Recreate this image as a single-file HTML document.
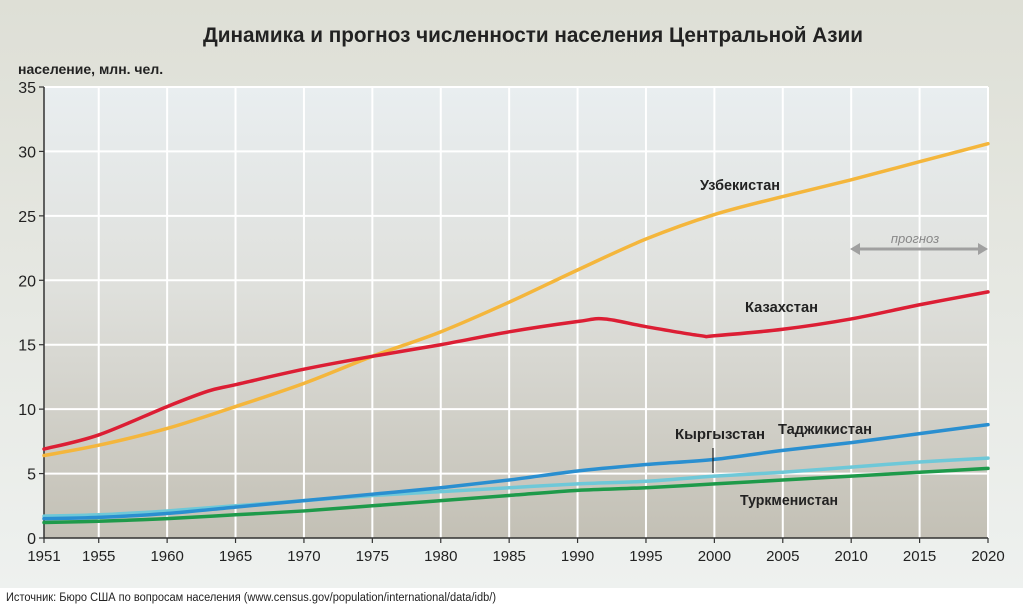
<!DOCTYPE html>
<html><head><meta charset="utf-8"><style>
body{margin:0;width:1023px;height:608px;overflow:hidden;font-family:"Liberation Sans",sans-serif;background:#fff}
</style></head><body>
<svg id="c" width="1023" height="608" xmlns="http://www.w3.org/2000/svg">
<defs>
<linearGradient id="bg" x1="0" y1="0" x2="0" y2="1"><stop offset="0" stop-color="#dedfd6"/><stop offset="1" stop-color="#eef1ef"/></linearGradient>
<linearGradient id="pg" x1="0" y1="0" x2="0" y2="1"><stop offset="0" stop-color="#e9eef0"/><stop offset="0.45" stop-color="#dfe0dc"/><stop offset="1" stop-color="#c3c0b5"/></linearGradient>
</defs>
<rect x="0" y="0" width="1023" height="588" fill="url(#bg)"/>
<rect x="44" y="87" width="944" height="451" fill="url(#pg)"/>
<g id="grid"></g>
<g id="axes"></g>
<g id="lines"></g>
<text x="533" y="42" text-anchor="middle" font-size="21" font-weight="bold" fill="#222" textLength="660" lengthAdjust="spacingAndGlyphs">Динамика и прогноз численности населения Центральной Азии</text>
<text x="18" y="74" font-size="14" font-weight="bold" fill="#222">население, млн. чел.</text>
<text x="700" y="190" font-size="15" font-weight="bold" fill="#222" textLength="80" lengthAdjust="spacingAndGlyphs">Узбекистан</text>
<text x="745" y="312" font-size="15" font-weight="bold" fill="#222" textLength="73" lengthAdjust="spacingAndGlyphs">Казахстан</text>
<text x="675" y="439" font-size="15" font-weight="bold" fill="#222" textLength="90" lengthAdjust="spacingAndGlyphs">Кыргызстан</text>
<text x="778" y="434" font-size="15" font-weight="bold" fill="#222" textLength="94" lengthAdjust="spacingAndGlyphs">Таджикистан</text>
<text x="740" y="505" font-size="15" font-weight="bold" fill="#222" textLength="98" lengthAdjust="spacingAndGlyphs">Туркменистан</text>
<line x1="713" y1="448" x2="713" y2="473" stroke="#222" stroke-width="1.2"/>
<g>
<line x1="858" y1="249" x2="980" y2="249" stroke="#a0a0a0" stroke-width="3"/>
<polygon points="850,249 860,243 860,255" fill="#a0a0a0"/>
<polygon points="988,249 978,243 978,255" fill="#a0a0a0"/>
<text x="915" y="243" text-anchor="middle" font-size="13" font-style="italic" fill="#888">прогноз</text>
</g>
<text x="6" y="601" font-size="11.5" fill="#222" textLength="490" lengthAdjust="spacingAndGlyphs">Источник: Бюро США по вопросам населения (www.census.gov/population/international/data/idb/)</text>
</svg>
<script>
const years=[1951,1955,1960,1965,1970,1975,1980,1985,1990,1995,2000,2005,2010,2015,2020];
const uzbekistan=[6.4,7.2,8.5,10.2,12.0,14.1,16.0,18.3,20.8,23.2,25.1,26.5,27.8,29.2,30.6];
const kazYears=[1951,1955,1960,1963,1965,1970,1975,1980,1985,1990,1992,1995,1999,2000,2005,2010,2015,2020];
const kazakhstan=[6.9,8.0,10.2,11.4,11.9,13.1,14.1,15.0,16.0,16.8,17.0,16.4,15.7,15.7,16.2,17.0,18.1,19.1];
const tajikistan=[1.5,1.6,1.9,2.4,2.9,3.4,3.9,4.5,5.2,5.7,6.1,6.8,7.4,8.1,8.8];
const kyrgyzstan=[1.7,1.8,2.1,2.5,2.9,3.3,3.6,3.9,4.2,4.4,4.8,5.1,5.5,5.9,6.2];
const turkmenistan=[1.2,1.3,1.5,1.8,2.1,2.5,2.9,3.3,3.7,3.9,4.2,4.5,4.8,5.1,5.4];
const yTicks=[0,5,10,15,20,25,30,35];
const xTicks=[1951,1955,1960,1965,1970,1975,1980,1985,1990,1995,2000,2005,2010,2015,2020];
const NS='http://www.w3.org/2000/svg';
const X0=44,X1=988,Y0=538,Y1=87;
const xs=v=>X0+(v-1951)/(2020-1951)*(X1-X0);
const ys=v=>Y0-v/35*(Y0-Y1);
function mk(tag,attrs,parent){const e=document.createElementNS(NS,tag);for(const k in attrs)e.setAttribute(k,attrs[k]);document.getElementById(parent).appendChild(e);return e;}
yTicks.forEach(t=>{
 if(t>0){const g=mk('line',{x1:X0,x2:X1,y1:ys(t),y2:ys(t),stroke:'#fff','stroke-width':2},'grid');
 
 }
 const tk=mk('line',{x1:X0-5,x2:X0,y1:ys(t),y2:ys(t),stroke:'#333','stroke-width':1.2},'axes');
 
 
 const tx=mk('text',{x:X0-8,y:ys(t)+6,'text-anchor':'end','font-size':16,fill:'#222'},'axes');tx.textContent=t;
 
 
});
xTicks.forEach(t=>{
 if(t>1951){const g=mk('line',{x1:xs(t),x2:xs(t),y1:Y1,y2:Y0,stroke:'#fff','stroke-width':2},'grid');
 
 }
 const tk=mk('line',{x1:xs(t),x2:xs(t),y1:Y0,y2:Y0+5,stroke:'#333','stroke-width':1.2},'axes');
 
 
 const tx=mk('text',{x:xs(t),y:Y0+23,'text-anchor':'middle','font-size':15,fill:'#222'},'axes');tx.textContent=t;
 
 
});
const ax=mk('path',{d:`M${X0},${Y1} V${Y0} H${X1}`,fill:'none',stroke:'#333','stroke-width':1.5},'axes');


function smooth(pts){let d=`M${pts[0][0]},${pts[0][1]}`;for(let i=0;i<pts.length-1;i++){const p0=pts[i-1]||pts[i],p1=pts[i],p2=pts[i+1],p3=pts[i+2]||p2;
 d+=` C${p1[0]+(p2[0]-p0[0])/6},${p1[1]+(p2[1]-p0[1])/6} ${p2[0]-(p3[0]-p1[0])/6},${p2[1]-(p3[1]-p1[1])/6} ${p2[0]},${p2[1]}`;}return d;}
const series=[
 ['line-turkmenistan',years,turkmenistan,'#1e9a4a'],
 ['line-kyrgyzstan',years,kyrgyzstan,'#6ec8d8'],
 ['line-tajikistan',years,tajikistan,'#2a8fd0'],
 ['line-uzbekistan',years,uzbekistan,'#f4b63c'],
 ['line-kazakhstan',kazYears,kazakhstan,'#dc1e34']];
series.forEach(s=>{
 const p=mk('path',{d:smooth(s[1].map((y,i)=>[xs(y),ys(s[2][i])])),fill:'none',stroke:s[3],'stroke-width':3.5,'stroke-linecap':'round'},'lines');
 
 
});
</script>
</body></html>
